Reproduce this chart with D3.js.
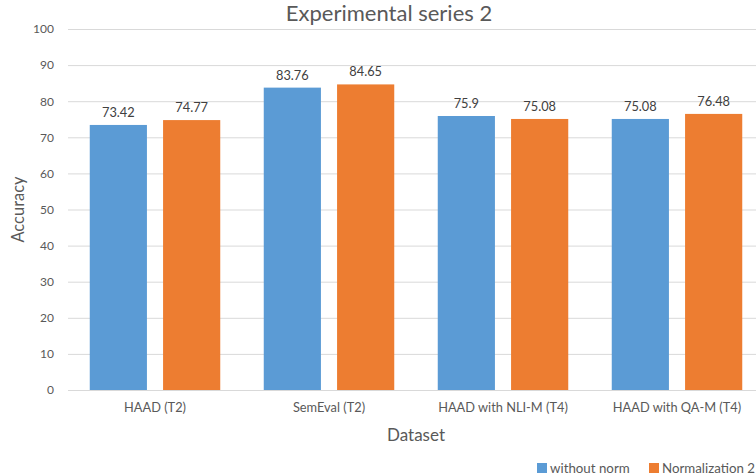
<!DOCTYPE html>
<html>
<head>
<meta charset="utf-8">
<script src="https://cdn.jsdelivr.net/npm/d3@7"></script>
<style>
  body { margin: 0; background: #fff; }
  svg { font-family: Lato, "Open Sans", sans-serif; display: block; }
</style>
</head>
<body>
<div id="chart"></div>
<script>
// Data
const categories = ["HAAD (T2)", "SemEval (T2)", "HAAD with NLI-M (T4)", "HAAD with QA-M (T4)"];
const seriesNames = ["without norm", "Normalization 2"];
const withoutNorm = [73.42, 83.76, 75.9, 75.08];
const normalization2 = [74.77, 84.65, 75.08, 76.48];
const yTicks = [0, 10, 20, 30, 40, 50, 60, 70, 80, 90, 100];

const colors = ["#5B9BD5", "#ED7D31"];
const width = 756, height = 476;
const margin = {top: 29, left: 68, bottom: 86};
const plotRight = 764;

const svg = d3.select("#chart").append("svg")
  .attr("width", width)
  .attr("height", height);

// Scales
const x0 = d3.scaleBand()
  .domain(categories)
  .range([margin.left, plotRight])
  .paddingInner(0.25)
  .paddingOuter(0.125);

const x1 = d3.scaleBand()
  .domain(seriesNames)
  .range([0, x0.bandwidth()])
  .paddingInner(0.22);

const y = d3.scaleLinear()
  .domain([0, 100])
  .range([height - margin.bottom, margin.top]);

// Gridlines
svg.append("g")
  .selectAll("line")
  .data(yTicks)
  .join("line")
    .attr("x1", margin.left)
    .attr("x2", plotRight)
    .attr("y1", d => y(d) + 0.5)
    .attr("y2", d => y(d) + 0.5)
    .attr("stroke", "#d9d9d9")
    .attr("stroke-width", 1);

// Y axis labels
const leftAxis = d3.axisLeft(y).tickValues(yTicks).tickSize(0).tickPadding(14);
const yAxisG = svg.append("g")
  .attr("transform", `translate(${margin.left}, 0)`)
  .call(leftAxis);
yAxisG.select(".domain").remove();
yAxisG.selectAll("text")
  .attr("fill", "#595959")
  .style("font-size", "12px")
  .style("font-family", "Lato, sans-serif");

// Bars
const series = [withoutNorm, normalization2];
series.forEach((values, s) => {
  svg.append("g")
    .selectAll("rect")
    .data(values)
    .join("rect")
      .attr("x", (d, i) => x0(categories[i]) + x1(seriesNames[s]))
      .attr("y", d => y(d))
      .attr("width", x1.bandwidth())
      .attr("height", d => y(0) - y(d))
      .attr("fill", colors[s]);

  // Data labels
  svg.append("g")
    .selectAll("text")
    .data(values)
    .join("text")
      .attr("x", (d, i) => x0(categories[i]) + x1(seriesNames[s]) + x1.bandwidth() / 2)
      .attr("y", d => y(d) - 8)
      .attr("text-anchor", "middle")
      .attr("fill", "#404040")
      .style("font-size", "12.8px")
      .text(d => d);
});

// X axis labels
const bottomAxis = d3.axisBottom(x0).tickSize(0).tickPadding(13);
const xAxisG = svg.append("g")
  .attr("transform", `translate(0, ${y(0)})`)
  .call(bottomAxis);
xAxisG.select(".domain").remove();
xAxisG.selectAll("text")
  .attr("fill", "#595959")
  .style("font-size", "12.8px")
  .style("font-family", "Lato, sans-serif");

// Title
svg.append("text")
  .attr("x", 389)
  .attr("y", 21)
  .attr("text-anchor", "middle")
  .attr("fill", "#595959")
  .style("font-size", "22px")
  .text("Experimental series 2");

// Axis titles
svg.append("text")
  .attr("x", 416)
  .attr("y", 441)
  .attr("text-anchor", "middle")
  .attr("fill", "#595959")
  .style("font-size", "17px")
  .text("Dataset");

svg.append("text")
  .attr("transform", `translate(24, ${(y(0) + y(100)) / 2}) rotate(-90)`)
  .attr("text-anchor", "middle")
  .attr("fill", "#595959")
  .style("font-size", "16.5px")
  .text("Accuracy");

// Legend
const legendX = [537, 649];
const legend = svg.append("g");
seriesNames.forEach((name, i) => {
  legend.append("rect")
    .attr("x", legendX[i])
    .attr("y", 463)
    .attr("width", 10)
    .attr("height", 10)
    .attr("fill", colors[i]);
  legend.append("text")
    .attr("x", legendX[i] + 13)
    .attr("y", 473)
    .attr("fill", "#595959")
    .style("font-size", "13.3px")
    .text(name);
});
</script>
</body>
</html>
